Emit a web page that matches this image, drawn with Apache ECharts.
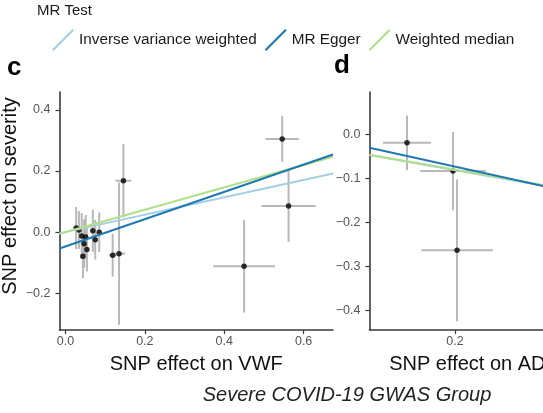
<!DOCTYPE html>
<html>
<head>
<meta charset="utf-8">
<script src="https://cdn.jsdelivr.net/npm/echarts@6/dist/echarts.min.js"></script>
<style>
  html, body { margin: 0; padding: 0; background: #fff; }
  #chart { width: 543px; height: 413px; }
</style>
</head>
<body>
<div id="chart"></div>
<script>
// MR methods, one line per method in each panel
var methodNames = ['Inverse variance weighted', 'MR Egger', 'Weighted median'];
var methodColors = ['#a6cee3', '#1f78b4', '#b2df8a'];

// panel c : SNP effect on VWF vs severity
var vwfX   = [0.027, 0.034, 0.041, 0.051, 0.047, 0.054, 0.044, 0.069, 0.085, 0.075, 0.119, 0.135, 0.146, 0.450, 0.546, 0.562];
var vwfY   = [0.013, 0.007, -0.013, -0.016, -0.038, -0.057, -0.079, 0.004, -0.001, -0.025, -0.076, -0.071, 0.168, -0.112, 0.305, 0.085];
var vwfXse = [0.006, 0.006, 0.006, 0.006, 0.006, 0.006, 0.006, 0.006, 0.006, 0.006, 0.010, 0.015, 0.020, 0.078, 0.042, 0.068];
var vwfYse = [0.069, 0.062, 0.075, 0.072, 0.080, 0.072, 0.072, 0.069, 0.065, 0.065, 0.070, 0.233, 0.120, 0.152, 0.075, 0.117];
var vwfSlope     = [0.285, 0.447, 0.366];
var vwfIntercept = [0, -0.047, 0];
var vwfXRange = [-0.015, 0.674];
var vwfYRange = [-0.321, 0.459];
var vwfXTicks = [0, 0.2, 0.4, 0.6];
var vwfYTicks = [-0.2, 0, 0.2, 0.4];

// panel d : SNP effect on ADAMTS13 vs severity
var adamX   = [0.153, 0.198, 0.202];
var adamY   = [-0.020, -0.084, -0.264];
var adamXse = [0.0235, 0.032, 0.035];
var adamYse = [0.062, 0.089, 0.161];
var adamSlope     = [-0.410, -0.512, -0.405];
var adamIntercept = [0, 0.0284, 0];
var adamXRange = [0.1163, 0.384];
var adamYRange = [-0.445, 0.0955];
var adamXTicks = [0.2, 0.3];
var adamYTicks = [-0.4, -0.3, -0.2, -0.1, 0];

var FONT = 'Liberation Sans, Arial, sans-serif';
var AXIS_COLOR = '#3a3a3a';

function fmt(v) {
  return v.toFixed(1).replace('-', '\u2212');
}

function makeX(idx, range, ticks, name) {
  return {
    gridIndex: idx, type: 'value', min: range[0], max: range[1],
    axisLine: { onZero: false, lineStyle: { color: AXIS_COLOR, width: 1.6 } },
    axisTick: { length: 4, lineStyle: { color: AXIS_COLOR, width: 1.2 }, customValues: ticks },
    axisLabel: { customValues: ticks, formatter: fmt, color: '#555', fontSize: 12.5, fontFamily: FONT, margin: 5 },
    splitLine: { show: false },
    name: name, nameLocation: 'middle', nameGap: 24,
    nameTextStyle: { fontSize: 20, color: '#111', fontFamily: FONT }
  };
}
function makeY(idx, range, ticks) {
  return {
    gridIndex: idx, type: 'value', min: range[0], max: range[1],
    axisLine: { onZero: false, lineStyle: { color: AXIS_COLOR, width: 1.6 } },
    axisTick: { length: 4, lineStyle: { color: AXIS_COLOR, width: 1.2 }, customValues: ticks },
    axisLabel: { customValues: ticks, formatter: fmt, color: '#555', fontSize: 12.5, fontFamily: FONT, margin: 9 },
    splitLine: { show: false }
  };
}

function errorBars(idx, xs, ys, xse, yse) {
  return {
    type: 'custom', xAxisIndex: idx, yAxisIndex: idx, z: 1, silent: true,
    encode: { x: 0, y: 1 },
    data: xs.map(function (x, i) { return [x, ys[i], xse[i], yse[i]]; }),
    renderItem: function (params, api) {
      var x = api.value(0), y = api.value(1), ex = api.value(2), ey = api.value(3);
      var l = api.coord([x - ex, y]), r = api.coord([x + ex, y]);
      var t = api.coord([x, y + ey]), b = api.coord([x, y - ey]);
      var st = { stroke: '#b8b8b8', lineWidth: 2 };
      return {
        type: 'group',
        children: [
          { type: 'line', shape: { x1: l[0], y1: l[1], x2: r[0], y2: r[1] }, style: st },
          { type: 'line', shape: { x1: t[0], y1: t[1], x2: b[0], y2: b[1] }, style: st }
        ]
      };
    }
  };
}

function points(idx, xs, ys) {
  return {
    type: 'scatter', xAxisIndex: idx, yAxisIndex: idx, z: 2, silent: true,
    symbolSize: 5.5, itemStyle: { color: '#000' },
    data: xs.map(function (x, i) { return [x, ys[i]]; })
  };
}

function fitLines(idx, slope, intercept, range) {
  return methodNames.map(function (n, i) {
    return {
      type: 'line', name: n, xAxisIndex: idx, yAxisIndex: idx, z: 3 + (i === 1 ? 2 : i === 2 ? 1 : 0),
      color: methodColors[i], showSymbol: false, symbol: 'none', silent: true,
      lineStyle: { width: 2, color: methodColors[i] },
      data: range.map(function (x) { return [x, intercept[i] + slope[i] * x]; })
    };
  });
}

var chart = echarts.init(document.getElementById('chart'), null, { renderer: 'canvas' });
var option = {
  animation: false,
  backgroundColor: '#fff',
  textStyle: { fontFamily: FONT },
  legend: {
    left: 47, top: 24, itemWidth: 22, itemHeight: 22, itemGap: 8,
    selectedMode: false,
    icon: 'path://M0,20.5 L20.5,0 L22,1.5 L1.5,22 Z',
    textStyle: { fontSize: 15.3, color: '#1a1a1a', fontFamily: FONT },
    data: methodNames
  },
  grid: [
    { left: 59.5, top: 92, width: 273.5, height: 238, containLabel: false, outerBoundsMode: 'none' },
    { left: 369.5, top: 92, width: 273.5, height: 238, containLabel: false, outerBoundsMode: 'none' }
  ],
  xAxis: [
    makeX(0, vwfXRange, vwfXTicks, 'SNP effect on VWF'),
    makeX(1, adamXRange, adamXTicks, 'SNP effect on ADAMTS13')
  ],
  yAxis: [
    makeY(0, vwfYRange, vwfYTicks),
    makeY(1, adamYRange, adamYTicks)
  ],
  graphic: [
    { type: 'text', left: 37, top: 3, style: { text: 'MR Test', fontSize: 15, fill: '#1a1a1a', fontFamily: FONT } },
    { type: 'text', left: 7, top: 55, style: { text: 'c', fontSize: 26, fontWeight: 'bold', fill: '#000', fontFamily: FONT } },
    { type: 'text', left: 334, top: 53, style: { text: 'd', fontSize: 26, fontWeight: 'bold', fill: '#000', fontFamily: FONT } },
    { type: 'text', x: 10, y: 196, rotation: Math.PI / 2,
      style: { text: 'SNP effect on severity', fontSize: 20, fill: '#111', fontFamily: FONT, align: 'center', verticalAlign: 'middle' } },
    { type: 'text', x: 347, y: 395,
      style: { text: 'Severe COVID-19 GWAS Group', fontSize: 20, fontStyle: 'italic', fill: '#222', fontFamily: FONT, align: 'center', verticalAlign: 'middle' } }
  ],
  series: [].concat(
    [errorBars(0, vwfX, vwfY, vwfXse, vwfYse), points(0, vwfX, vwfY)],
    fitLines(0, vwfSlope, vwfIntercept, vwfXRange),
    [errorBars(1, adamX, adamY, adamXse, adamYse), points(1, adamX, adamY)],
    fitLines(1, adamSlope, adamIntercept, adamXRange)
  )
};
chart.setOption(option);
</script>
</body>
</html>
